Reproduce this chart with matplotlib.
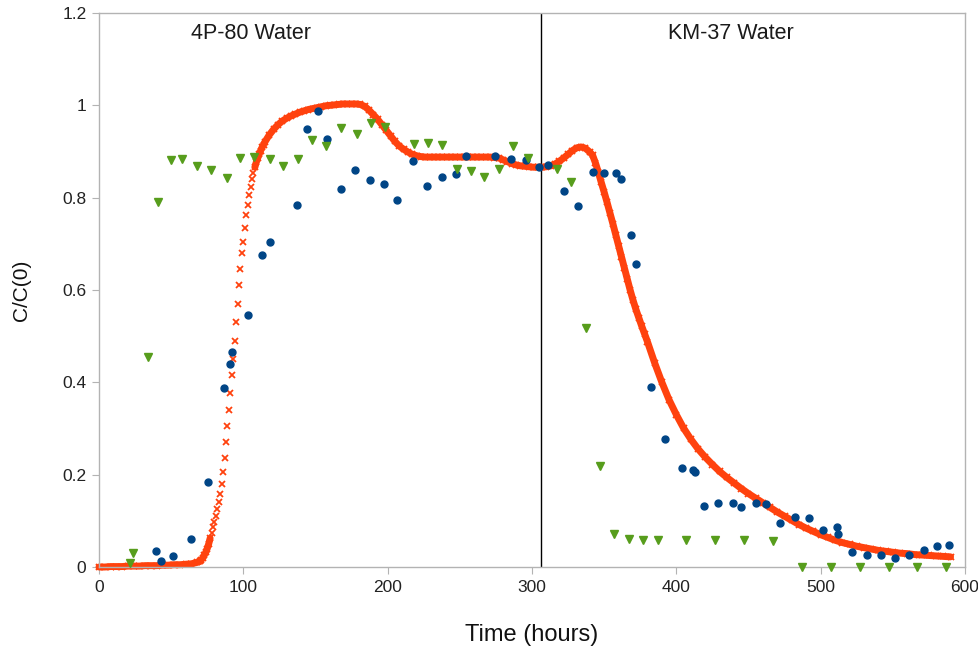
import numpy as np
import matplotlib
matplotlib.use("Agg")
import matplotlib.pyplot as plt

plt.rcParams['font.family'] = ['Liberation Sans', 'DejaVu Sans']

# model curve (orange x markers)
model_t = np.concatenate([
    np.arange(0, 70, 4),
    np.arange(70, 116, 1),
    np.arange(118, 341, 3),
    np.arange(342, 380, 2),
    np.arange(380, 591, 5),
])
model_c = [
    # 0 .. 68 (step 4)
    0.000, 0.000, 0.001, 0.001, 0.001, 0.002, 0.002, 0.002, 0.003, 0.003,
    0.003, 0.004, 0.004, 0.005, 0.005, 0.006, 0.007, 0.010,
    # 70 .. 115 (step 1)
    0.012, 0.016, 0.020, 0.026, 0.032, 0.040, 0.050, 0.062, 0.074, 0.086,
    0.098, 0.110, 0.125, 0.140, 0.158, 0.180, 0.205, 0.237, 0.270, 0.305,
    0.340, 0.378, 0.415, 0.450, 0.490, 0.530, 0.570, 0.610, 0.645, 0.680,
    0.705, 0.735, 0.762, 0.785, 0.805, 0.823, 0.840, 0.854, 0.866, 0.877,
    0.886, 0.894, 0.902, 0.909, 0.915, 0.921,
    # 118 .. 340 (step 3)
    0.936, 0.948, 0.958, 0.966, 0.972, 0.977, 0.981, 0.985, 0.988, 0.991,
    0.993, 0.995, 0.997, 0.999, 1.000, 1.001, 1.002, 1.003, 1.003, 1.003,
    1.003, 1.002, 0.998, 0.990, 0.980, 0.970, 0.958, 0.946, 0.934, 0.922,
    0.912, 0.905, 0.899, 0.894, 0.891, 0.889, 0.888, 0.888, 0.888, 0.888,
    0.888, 0.888, 0.888, 0.888, 0.888, 0.888, 0.888, 0.888, 0.888, 0.888,
    0.888, 0.888, 0.887, 0.886, 0.882, 0.878, 0.874, 0.871, 0.869, 0.868,
    0.867, 0.866, 0.866, 0.866, 0.867, 0.869, 0.873, 0.879, 0.886, 0.894,
    0.902, 0.908, 0.910, 0.907, 0.899,
    # 342 .. 378 (step 2)
    0.892, 0.875, 0.855, 0.833, 0.812, 0.790, 0.767, 0.744, 0.720, 0.696,
    0.672, 0.648, 0.624, 0.600, 0.578, 0.558, 0.540, 0.522, 0.505,
    # 380 .. 590 (step 5)
    0.488, 0.442, 0.400, 0.362, 0.330, 0.301, 0.277, 0.256, 0.238, 0.222,
    0.207, 0.194, 0.182, 0.170, 0.159, 0.149, 0.139, 0.129, 0.119, 0.110,
    0.101, 0.092, 0.084, 0.077, 0.070, 0.064, 0.058, 0.053, 0.049, 0.045,
    0.042, 0.039, 0.036, 0.034, 0.032, 0.030, 0.029, 0.027, 0.026, 0.025,
    0.024, 0.023, 0.022,
]

# measured points, blue circles
blue_t = [39.5, 43, 51, 64, 75.5, 86.6, 90.5, 92, 103, 113, 118.5, 137, 144,
          152, 158, 168, 177.4, 187.8, 197.5, 206.5, 217.6, 227.3, 237.7,
          247.4, 254.3, 274.4, 285.5, 295.9, 304.9, 311, 322.2, 332, 342,
          350, 358, 361.5, 368.5, 372, 382.5, 392, 404, 411.6, 413, 419,
          428.9, 439.3, 444.9, 455.3, 462.1, 471.8, 482.2, 491.9, 501.6,
          511.3, 512, 521.7, 532.1, 541.8, 551.5, 561.2, 571.6, 580.6, 589]
blue_c = [0.035, 0.013, 0.024, 0.061, 0.184, 0.388, 0.440, 0.466, 0.546,
          0.676, 0.704, 0.784, 0.949, 0.988, 0.927, 0.819, 0.860, 0.838,
          0.830, 0.795, 0.879, 0.825, 0.845, 0.851, 0.890, 0.890, 0.883,
          0.881, 0.866, 0.871, 0.814, 0.782, 0.856, 0.853, 0.853, 0.840,
          0.719, 0.656, 0.390, 0.277, 0.214, 0.210, 0.206, 0.132, 0.139,
          0.139, 0.130, 0.139, 0.136, 0.095, 0.108, 0.106, 0.080, 0.087,
          0.071, 0.032, 0.026, 0.026, 0.020, 0.026, 0.037, 0.046, 0.048]

# measured points, green triangles
green_t = [21.5, 23.5, 34, 41, 50, 57.5, 68, 77.6, 88.7, 97.7, 107.4, 118.5,
           127.5, 137.9, 147.6, 157.3, 167.7, 178.5, 188.5, 198, 218, 228,
           238, 248, 257.5, 266.6, 277, 287, 297, 317.3, 327, 337.4, 347,
           357, 367, 377, 387, 407, 427, 447, 467, 487, 507, 527, 547, 567,
           587]
green_c = [0.008, 0.030, 0.455, 0.790, 0.881, 0.883, 0.869, 0.860, 0.843,
           0.886, 0.888, 0.884, 0.869, 0.884, 0.925, 0.912, 0.951, 0.938,
           0.962, 0.953, 0.916, 0.918, 0.914, 0.862, 0.858, 0.845, 0.862,
           0.912, 0.886, 0.862, 0.834, 0.518, 0.219, 0.071, 0.061, 0.058,
           0.058, 0.058, 0.058, 0.058, 0.056, 0.0, 0.0, 0.0, 0.0, 0.0, 0.0]

switch_t = 306
labels = ["4P-80 Water", "KM-37 Water"]
label_t = [105, 438]

fig = plt.figure(figsize=(9.79, 6.51), dpi=100)
ax = fig.add_axes([0.1011, 0.129, 0.8846, 0.851])

# thick band under the markers, left out where the rise is steep so the
# separate crosses show as in the original
band = np.array(model_c, dtype=float)
band[(model_t > 77) & (model_t < 108)] = np.nan
ax.plot(model_t, band, color='#ff420e', lw=5, zorder=2, clip_on=False,
        solid_capstyle='round')
ax.plot(model_t, model_c, ls='none', marker='x', ms=5, mew=1.3,
        color='#ff420e', zorder=2, clip_on=False)
ax.plot(blue_t, blue_c, ls='none', marker='o', ms=5, color='#004586',
        zorder=3, clip_on=False)
ax.plot(green_t, green_c, ls='none', marker='v', ms=5.5, color='#579d1c',
        zorder=3, clip_on=False)

ax.axvline(switch_t, color='black', lw=1, zorder=1)
for lab, t in zip(labels, label_t):
    ax.text(t, 1.155, lab, ha='center', va='center', fontsize=15.5,
            color='#1a1a1a')

ax.set_xlim(0, 600)
ax.set_ylim(0, 1.2)
ax.set_xticks(range(0, 601, 100))
ax.set_yticks([0, 0.2, 0.4, 0.6, 0.8, 1.0, 1.2])
ax.set_yticklabels(['0', '0.2', '0.4', '0.6', '0.8', '1', '1.2'])
ax.tick_params(direction='out', length=5, color='#b3b3b3', labelsize=12.5,
               labelcolor='#222222', pad=4)
for sp in ax.spines.values():
    sp.set_color('#b3b3b3')
    sp.set_linewidth(1)

fig.text(0.5434, 0.0246, "Time (hours)", ha='center', va='center',
         fontsize=17, color='#111111')
fig.text(0.022, 0.5545, "C/C(0)", ha='center', va='center', rotation=90,
         fontsize=15, color='#111111')

fig.savefig("out.png", dpi=100)
